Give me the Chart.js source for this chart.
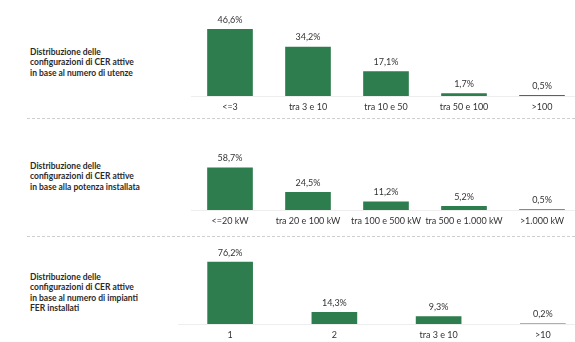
<!DOCTYPE html>
<html>
<head>
<meta charset="utf-8">
<script src="https://cdn.jsdelivr.net/npm/chart.js@4"></script>
<style>
  html, body { margin: 0; padding: 0; background: #fff; width: 575px; height: 342px; overflow: hidden; position: relative; }
  .title { position: absolute; left: 30px; font-family: Lato, sans-serif; font-weight: bold; font-size: 8.5px; line-height: 10.3px; color: #2b2b2b; white-space: nowrap; }
  .sep { position: absolute; left: 27px; width: 548px; height: 0; border-top: 1px dashed #cfcfcf; }
  .wrap { position: absolute; }
  canvas { display: block; }
</style>
</head>
<body>
<div class="title" style="top:47px">Distribuzione delle<br>configurazioni di CER attive<br>in base al numero di utenze</div>
<div class="title" style="top:161px">Distribuzione delle<br>configurazioni di CER attive<br>in base alla potenza installata</div>
<div class="title" style="top:272px">Distribuzione delle<br>configurazioni di CER attive<br>in base al numero di impianti<br>FER installati</div>
<div class="sep" style="top:118px"></div>
<div class="sep" style="top:236px"></div>

<div class="wrap" style="left:191px;top:0px"><canvas id="c1" width="390" height="118"></canvas></div>
<div class="wrap" style="left:191px;top:128px"><canvas id="c2" width="390" height="104"></canvas></div>
<div class="wrap" style="left:178px;top:241px"><canvas id="c3" width="417" height="105"></canvas></div>

<script>
// Data
const utenzeLabels = ['<=3', 'tra 3 e 10', 'tra 10 e 50', 'tra 50 e 100', '>100'];
const utenzeValues = [46.6, 34.2, 17.1, 1.7, 0.5];

const potenzaLabels = ['<=20 kW', 'tra 20 e 100 kW', 'tra 100 e 500 kW', 'tra 500 e 1.000 kW', '>1.000 kW'];
const potenzaValues = [58.7, 24.5, 11.2, 5.2, 0.5];

const impiantiLabels = ['1', '2', 'tra 3 e 10', '>10'];
const impiantiValues = [76.2, 14.3, 9.3, 0.2];

const green = '#2e7d4e';
const textColor = '#333333';

// value labels above bars
const valueLabels = {
  id: 'valueLabels',
  afterDatasetsDraw(chart) {
    const ctx = chart.ctx;
    const meta = chart.getDatasetMeta(0);
    const data = chart.data.datasets[0].data;
    ctx.save();
    ctx.font = '9px Lato, sans-serif';
    ctx.fillStyle = textColor;
    ctx.textAlign = 'center';
    ctx.textBaseline = 'bottom';
    meta.data.forEach((bar, i) => {
      const txt = data[i].toFixed(1).replace('.', ',') + '%';
      ctx.fillText(txt, bar.x, bar.y - 5);
    });
    ctx.restore();
  }
};

function makeChart(id, labels, values, yMax) {
  return new Chart(document.getElementById(id), {
    type: 'bar',
    data: {
      labels: labels,
      datasets: [{
        data: values,
        backgroundColor: green,
        borderWidth: 0,
        barThickness: 45
      }]
    },
    options: {
      responsive: false,
      animation: false,
      layout: { padding: { top: 10, left: 0, right: 0, bottom: 0 } },
      plugins: {
        legend: { display: false },
        tooltip: { enabled: false }
      },
      scales: {
        x: {
          grid: { display: false, drawTicks: false },
          border: { display: true, color: '#eeeeee', width: 1 },
          ticks: { color: textColor, font: { family: 'Lato', size: 9 }, padding: 6, maxRotation: 0, autoSkip: false },
          afterFit: (axis) => { axis.height = 22; }
        },
        y: {
          display: false,
          min: 0,
          max: yMax
        }
      }
    },
    plugins: [valueLabels]
  });
}

makeChart('c1', utenzeLabels, utenzeValues, 60);
makeChart('c2', potenzaLabels, potenzaValues, 100);
makeChart('c3', impiantiLabels, impiantiValues, 90);
</script>
</body>
</html>
